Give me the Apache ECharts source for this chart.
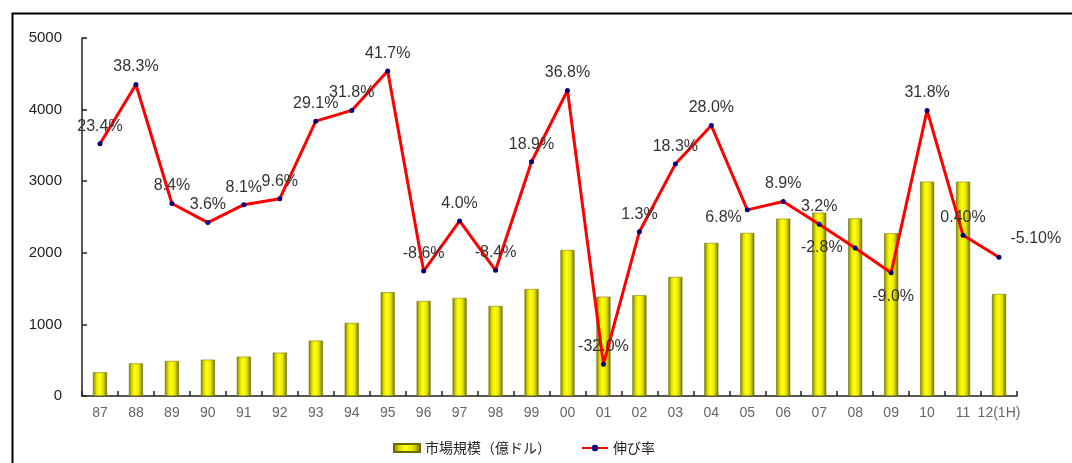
<!DOCTYPE html>
<html>
<head>
<meta charset="utf-8">
<script src="https://cdn.jsdelivr.net/npm/echarts@6/dist/echarts.min.js"></script>
<style>
html,body{margin:0;padding:0;background:#fff;}
#chart{width:1072px;height:463px;}
</style>
</head>
<body>
<div id="chart"></div>
<script>
const categories = ['87','88','89','90','91','92','93','94','95','96','97','98','99','00','01','02','03','04','05','06','07','08','09','10','11','12(1H)'];
const marketSize = [330,455,489,507,549,605,773,1020,1448,1327,1369,1257,1494,2039,1387,1406,1662,2137,2277,2477,2560,2480,2272,2993,2993,1425];
const growthRate = [23.4,38.3,8.4,3.6,8.1,9.6,29.1,31.8,41.7,-8.6,4.0,-8.4,18.9,36.8,-32.0,1.3,18.3,28.0,6.8,8.9,3.2,-2.8,-9.0,31.8,0.4,-5.1];
const growthLabels = ['23.4%','38.3%','8.4%','3.6%','8.1%','9.6%','29.1%','31.8%','41.7%','-8.6%','4.0%','-8.4%','18.9%','36.8%','-32.0%','1.3%','18.3%','28.0%','6.8%','8.9%','3.2%','-2.8%','-9.0%','31.8%','0.40%','-5.10%'];
const leftTicks = [0,1000,2000,3000,4000,5000];
const seriesNames = ['市場規模（億ドル）','伸び率'];

// label placement tweaks (style only)
const labelTweaks = {
  18: {position:'left', offset:[4,8]},
  21: {position:'left', offset:[-3,0]},
  22: {position:'bottom', offset:[2,6]},
  25: {position:'right', offset:[2,-19]}
};

const lineData = growthRate.map((v,i)=>{
  const item = {value:v};
  if (labelTweaks[i]) item.label = labelTweaks[i];
  return item;
});

const chart = echarts.init(document.getElementById('chart'));
chart.setOption({
  animation:false,
  backgroundColor:'#ffffff',
  graphic:[{
    type:'rect', left:10, top:11, z:100,
    shape:{x:0,y:0,width:1080,height:470},
    style:{fill:'none', stroke:'#000', lineWidth:2}
  }],
  grid:{left:82, right:55, top:38, bottom:67, containLabel:false},
  legend:{
    left:388, top:436,
    itemGap:30,
    itemWidth:26, itemHeight:8,
    textStyle:{fontFamily:'"Noto Sans CJK JP", sans-serif', fontSize:14, color:'#222'},
    data:[
      {name:seriesNames[0], icon:'rect'},
      {name:seriesNames[1]}
    ]
  },
  xAxis:{
    type:'category',
    data:categories,
    boundaryGap:true,
    axisLine:{lineStyle:{color:'#222', width:1.5}},
    axisTick:{show:true, inside:true, length:5, lineStyle:{color:'#222', width:1.5}},
    axisLabel:{color:'#666', fontSize:14, fontFamily:'"Liberation Sans", Arial, sans-serif', margin:10, interval:0}
  },
  yAxis:[{
    type:'value',
    min:leftTicks[0], max:leftTicks[leftTicks.length-1], interval:1000,
    axisLine:{show:true, lineStyle:{color:'#222', width:1.5}},
    axisTick:{show:true, inside:true, length:5, lineStyle:{color:'#222', width:1.5}},
    splitLine:{show:false},
    axisLabel:{color:'#222', fontSize:15, fontFamily:'"Liberation Sans", Arial, sans-serif', margin:20,
      formatter:(v)=>String(v)}
  },{
    type:'value', min:-40, max:50, show:false, splitLine:{show:false}
  }],
  series:[{
    name:seriesNames[0],
    type:'bar',
    data:marketSize,
    barWidth:14,
    itemStyle:{
      color:new echarts.graphic.LinearGradient(0,0,1,0,[
        {offset:0, color:'#7a7a00'},
        {offset:0.25, color:'#e6e600'},
        {offset:0.45, color:'#ffff10'},
        {offset:0.7, color:'#e8e800'},
        {offset:1, color:'#6e6e00'}
      ]),
      borderColor:'#6a6a00', borderWidth:0.5
    }
  },{
    name:seriesNames[1],
    type:'line',
    yAxisIndex:1,
    data:lineData,
    symbol:'circle', symbolSize:5,
    lineStyle:{color:'#ff0000', width:3},
    itemStyle:{color:'#000080'},
    z:5,
    label:{
      show:true, position:'top', distance:7,
      color:'#333', fontSize:16, fontFamily:'"Liberation Sans", Arial, sans-serif',
      formatter:(p)=>growthLabels[p.dataIndex]
    }
  }]
});
</script>
</body>
</html>
